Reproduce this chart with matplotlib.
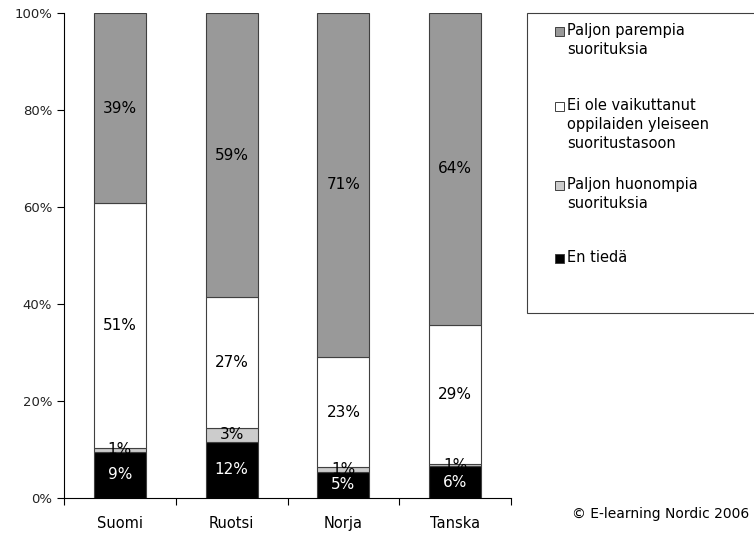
import matplotlib.pyplot as plt
import numpy as np
from matplotlib.patches import Rectangle

countries = ["Suomi", "Ruotsi", "Norja", "Tanska"]
# segment shares (%), bottom to top
en_tieda = [9.5, 11.6, 5.4, 6.5]
huonompia = [0.8, 2.8, 0.9, 0.6]
ei_vaikutusta = [50.5, 27.0, 22.8, 28.6]
parempia = [39.2, 58.6, 70.9, 64.3]
# printed labels
lab_en = [9, 12, 5, 6]
lab_huon = [1, 3, 1, 1]
lab_ei = [51, 27, 23, 29]
lab_par = [39, 59, 71, 64]

series = [
    (en_tieda, lab_en, "#000000", "white"),
    (huonompia, lab_huon, "#cccccc", "black"),
    (ei_vaikutusta, lab_ei, "#ffffff", "black"),
    (parempia, lab_par, "#999999", "black"),
]

fig = plt.figure(figsize=(7.54, 5.39), dpi=100)
ax = fig.add_axes([64/754, 41/539, 447/754, 485/539])

x = np.arange(len(countries))
bottom = np.zeros(len(countries))
for vals, labs, col, tcol in series:
    vals = np.array(vals)
    ax.bar(x, vals, 0.465, bottom=bottom, color=col, edgecolor="#404040", linewidth=0.8)
    for i in range(len(x)):
        ax.text(x[i], bottom[i] + vals[i] / 2, f"{labs[i]}%", ha="center", va="center",
                fontsize=11, color=tcol)
    bottom += vals

ax.set_xlim(-0.5, 3.5)
ax.set_ylim(0, 100)
ax.spines["top"].set_visible(False)
ax.spines["right"].set_visible(False)
ax.set_yticks([0, 20, 40, 60, 80, 100])
ax.set_yticklabels([f"{v}%" for v in [0, 20, 40, 60, 80, 100]], fontsize=9.5, color="#222222")
ax.set_xticks(np.arange(-0.5, 4, 1))
ax.set_xticklabels([])
ax.set_xticks(x, minor=True)
ax.set_xticklabels(countries, minor=True, fontsize=10.5)
ax.tick_params(axis="x", which="minor", length=0, pad=13)
ax.tick_params(axis="both", which="major", length=5, direction="out")

# legend box
fig.patches.append(Rectangle((527/754, 1 - 313/539), 240/754, 300/539,
                             transform=fig.transFigure, facecolor="white",
                             edgecolor="#404040", linewidth=0.8))
legend = [
    ("#999999", ["Paljon parempia", "suorituksia"], 31),
    ("#ffffff", ["Ei ole vaikuttanut", "oppilaiden yleiseen", "suoritustasoon"], 106),
    ("#cccccc", ["Paljon huonompia", "suorituksia"], 185),
    ("#000000", ["En tiedä"], 258),
]
for col, lines, ytop in legend:
    fig.patches.append(Rectangle((555/754, 1 - (ytop + 5)/539), 9/754, 9/539,
                                 transform=fig.transFigure, facecolor=col,
                                 edgecolor="#404040", linewidth=0.7))
    for k, line in enumerate(lines):
        fig.text(567/754, 1 - (ytop + k * 19)/539, line, fontsize=10.5, va="center", ha="left")

fig.text(572/754, 1 - 514/539, "© E-learning Nordic 2006", fontsize=10, va="center", ha="left")

fig.savefig("out.png", dpi=100)
